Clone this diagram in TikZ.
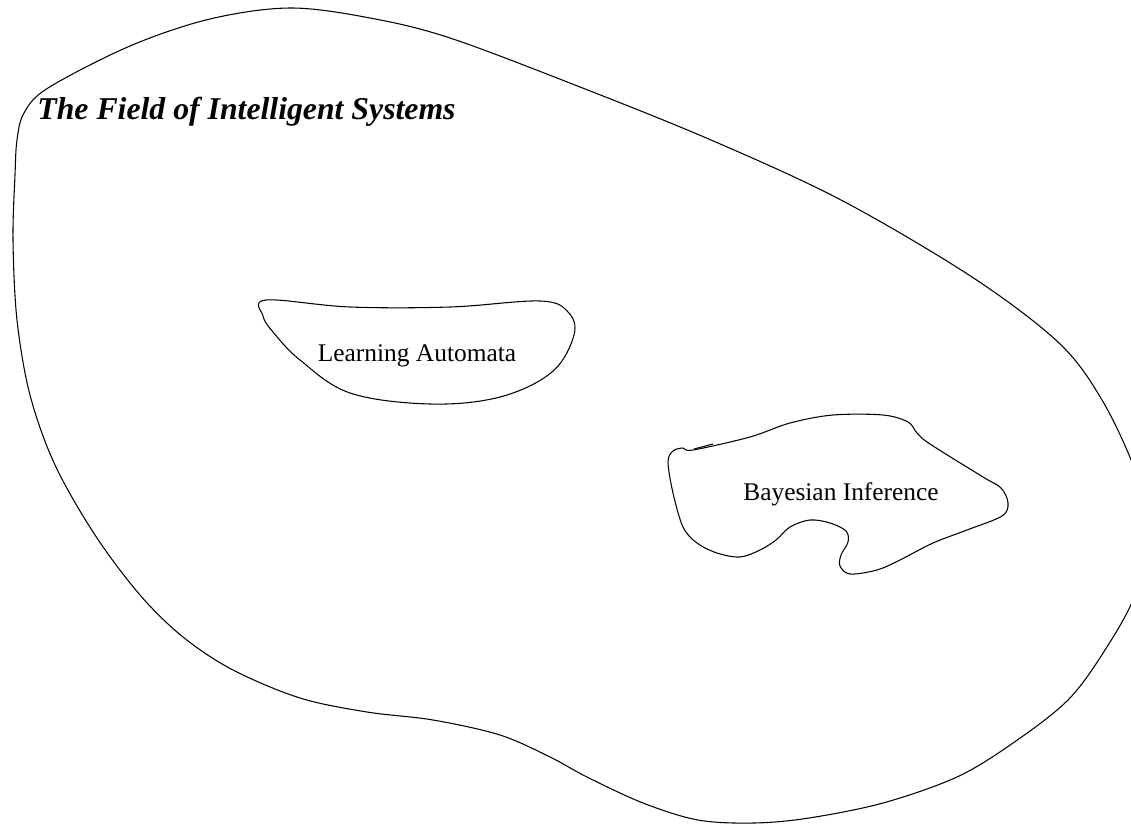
\documentclass[tikz,border=0pt]{standalone}
\usepackage{fontspec}
\setmainfont{Liberation Serif}
\usetikzlibrary{positioning}
\tikzset{
  blob/.style={
    draw=black,
    line width=0.5pt
  },
  fieldlabel/.style={
    font=\fontsize{15}{17}\selectfont\bfseries\itshape,
    inner sep=0pt
  },
  arealabel/.style={
    font=\fontsize{12}{14}\selectfont,
    inner sep=0pt
  }
}

\begin{document}
\begin{tikzpicture}[x=0.0166cm, y=-0.0166cm]
  \useasboundingbox (0,0) rectangle (1131,824);
  \clip (0,0) rectangle (1131,824);
  % the whole field
  \draw[blob] plot[smooth cycle, tension=0.55] coordinates {
    (290,8) (370,18) (450,38) (580,87) (711,140) (841,200) (972,277)
    (1059,343) (1102,400) (1135,470) (1150,530) (1135,595) (1105,650)
    (1068,700) (1013,743) (957,777) (883,803) (809,818) (754,823)
    (698,820) (643,803) (587,777) (550,757) (500,735) (433,720)
    (367,712) (300,698) (233,670) (183,637) (140,595) (95,535)
    (55,465) (30,395) (17,320) (13,240) (15,175) (17,140) (24,113)
    (48,88) (130,46) (210,19)
  };
  \node[fieldlabel, anchor=base west] (field) at (37,120)
    {The Field of Intelligent Systems};
  % learning automata
  \draw[blob] plot[smooth cycle, tension=0.6] coordinates {
    (266,300) (350,307) (450,307) (540,301) (568,312) (574,335)
    (552,372) (500,397) (430,404) (350,393) (300,360) (273,332)
    (263,316)
  };
  \node[arealabel] (automata) at (417,356) {Learning Automata};
  % bayesian inference
  \draw[blob] plot[smooth cycle, tension=0.55] coordinates {
    (693,450) (750,437) (790,423) (833,415) (883,415) (908,422)
    (917,433) (930,444) (983,477) (1001,488) (1008,503) (1002,516)
    (967,530) (933,543) (900,560) (877,570) (850,574) (840,566)
    (841,555) (848,542) (846,531) (830,523) (810,520) (790,527)
    (776,540) (760,550) (740,557) (717,553) (697,543) (683,527)
    (673,493) (668,462) (673,451) (683,448)
  };
  \draw[blob] (694,449) -- (713,444);
  \node[arealabel] (bayes) at (841,494) {Bayesian Inference};
\end{tikzpicture}
\end{document}
